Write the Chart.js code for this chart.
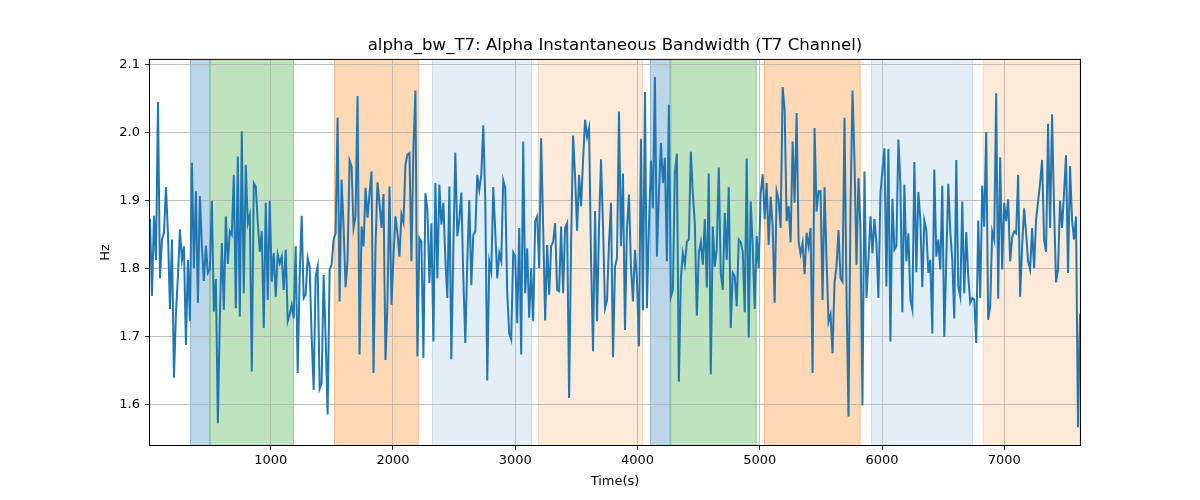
<!DOCTYPE html>
<html>
<head>
<meta charset="utf-8">
<script src="https://cdn.jsdelivr.net/npm/chart.js@4/dist/chart.umd.min.js"></script>
<style>
  html, body { margin: 0; padding: 0; background: #ffffff; }
  #wrap { width: 1200px; height: 500px; }
</style>
</head>
<body>
<div id="wrap"><canvas id="chart" width="1200" height="500"></canvas></div>
<script>
// Time axis: samples are evenly spaced between the first and last time
const T_START = 13;
const T_END = 7619;

// Alpha instantaneous bandwidth, T7 channel (Hz), read left to right
const BW_VALUES = [
  // ~13 - 760 s
  1.873, 1.760, 1.878, 1.813, 2.045, 1.786, 1.843, 1.852, 1.920, 1.852,
  1.741, 1.843, 1.640, 1.735, 1.789, 1.858, 1.813, 1.833, 1.688, 1.813,
  1.723, 1.956, 1.801, 1.914, 1.750, 1.907, 1.833, 1.782, 1.834, 1.794,
  1.799, 1.900, 1.737, 1.785, 1.573, 1.730, 1.838, 1.740, 1.877, 1.807,
  1.855, 1.850, 1.938, 1.742, 1.965, 1.730, 2.002,
  // ~760 - 1500 s
  1.764, 1.953, 1.867, 1.879, 1.649, 1.926, 1.921, 1.868, 1.825, 1.855,
  1.713, 1.897, 1.754, 1.900, 1.781, 1.823, 1.759, 1.821, 1.808, 1.818,
  1.769, 1.828, 1.723, 1.733, 1.747, 1.727, 1.833, 1.647, 1.790, 1.878,
  1.757, 1.762, 1.816, 1.803, 1.700, 1.622, 1.789, 1.803, 1.624, 1.632,
  1.791, 1.700, 1.586, 1.799, 1.806,
  // ~1500 - 2250 s
  1.843, 1.852, 2.022, 1.752, 1.931, 1.862, 1.773, 1.813, 1.959, 1.950,
  1.860, 1.877, 2.054, 1.674, 1.862, 1.833, 1.919, 1.875, 1.911, 1.943,
  1.647, 1.833, 1.927, 1.897, 1.860, 1.910, 1.666, 1.750, 1.921, 1.747,
  1.818, 1.877, 1.852, 1.818, 1.880, 1.868, 1.953, 1.968, 1.970, 1.811,
  1.980, 2.062, 1.671, 1.845, 1.840, 1.669,
  // ~2250 - 3000 s
  1.911, 1.887, 1.779, 1.867, 1.693, 1.926, 1.786, 1.924, 1.865, 1.897,
  1.813, 1.757, 1.921, 1.667, 1.830, 1.971, 1.848, 1.872, 1.912, 1.786,
  1.691, 1.813, 1.901, 1.776, 1.850, 1.855, 1.938, 1.916, 1.938, 2.011,
  1.901, 1.636, 1.811, 1.796, 1.920, 1.855, 1.786, 1.823, 1.811, 1.930,
  1.919, 1.764, 1.705, 1.696, 1.824, 1.818,
  // ~3000 - 3750 s
  1.720, 1.860, 1.674, 1.987, 1.764, 1.830, 1.728, 1.801, 1.723, 1.870,
  1.877, 1.801, 1.992, 1.862, 1.724, 1.835, 1.762, 1.833, 1.840, 1.867,
  1.769, 1.767, 1.862, 1.764, 1.860, 1.867, 1.610, 1.838, 1.996, 1.936,
  1.856, 1.938, 1.892, 1.960, 2.019, 1.994, 2.007, 1.813, 1.679, 1.885,
  1.723, 1.862, 1.961, 1.862, 1.742, 1.754,
  // ~3750 - 4500 s
  1.838, 1.897, 1.670, 1.803, 1.816, 2.031, 1.833, 1.940, 1.710, 1.860,
  1.909, 1.803, 1.752, 1.828, 1.784, 1.686, 1.991, 1.739, 2.060, 1.742,
  1.862, 1.959, 1.889, 2.082, 1.818, 1.911, 1.985, 1.926, 1.963, 1.811,
  2.041, 1.759, 1.769, 1.941, 1.969, 1.634, 1.786, 1.823, 1.806, 1.840,
  1.843, 1.972, 1.911, 1.867, 1.731, 1.823,
  // ~4500 - 5250 s
  1.839, 1.806, 1.873, 1.772, 1.940, 1.645, 1.862, 1.803, 1.830, 1.949,
  1.794, 1.769, 1.882, 1.813, 1.920, 1.713, 1.794, 1.789, 1.745, 1.843,
  1.839, 1.825, 1.736, 1.962, 1.699, 1.899, 1.833, 1.741, 1.848, 1.801,
  1.911, 1.939, 1.873, 1.926, 1.835, 1.906, 1.862, 1.750, 1.914, 1.901,
  1.860, 2.067, 2.034, 1.870, 1.892, 1.839,
  // ~5250 - 6000 s
  1.987, 1.897, 2.029, 1.840, 1.822, 1.838, 1.792, 1.853, 1.833, 1.860,
  1.647, 2.007, 1.884, 1.914, 1.914, 1.754, 1.920, 1.813, 1.722, 1.733,
  1.676, 1.780, 1.804, 1.857, 1.786, 1.781, 2.022, 1.764, 1.583, 1.887,
  2.062, 1.960, 1.806, 1.933, 1.862, 1.599, 1.943, 1.757, 1.813, 1.877,
  1.823, 1.873, 1.838, 1.757, 1.911, 1.945,
  // ~6000 - 6750 s
  1.977, 1.774, 1.976, 1.693, 1.903, 1.828, 1.833, 1.990, 1.926, 1.736,
  1.924, 1.811, 1.852, 1.755, 1.740, 1.957, 1.795, 1.913, 1.873, 1.773,
  1.871, 1.857, 1.794, 1.813, 1.705, 1.946, 1.818, 1.843, 1.799, 1.922,
  1.700, 1.813, 1.925, 1.855, 1.813, 1.727, 1.960, 1.774, 1.759, 1.899,
  1.764, 1.854, 1.789, 1.750, 1.757, 1.755,
  // ~6750 - 7619 s
  1.691, 1.871, 1.757, 1.922, 1.862, 2.001, 1.725, 1.745, 1.855, 1.843,
  2.058, 1.756, 1.964, 1.799, 1.897, 1.870, 1.902, 1.811, 1.846, 1.855,
  1.852, 1.938, 1.759, 1.833, 1.889, 1.852, 1.811, 1.799, 1.860, 1.801,
  1.872, 1.899, 1.926, 1.960, 1.842, 1.825, 2.013, 1.860, 2.027, 1.889,
  1.780, 1.799, 1.900, 1.860, 1.911, 1.967, 1.794, 1.951, 1.872, 1.843,
  1.877, 1.567, 1.734
];

// Shaded state segments (seconds)
const SPAN_START = [340, 504, 1518, 2319, 3186, 4102, 4269, 5035, 5910, 6823];
const SPAN_END   = [504, 1191, 2211, 3137, 4045, 4269, 4975, 5825, 6744, 7619];
const SPAN_KIND  = ['blue', 'green', 'orange', 'lightblue', 'lightorange',
                    'blue', 'green', 'orange', 'lightblue', 'lightorange'];

const X_TICKS = [1000, 2000, 3000, 4000, 5000, 6000, 7000];
const Y_TICKS = [1.6, 1.7, 1.8, 1.9, 2.0, 2.1];
const Y_MIN = 1.541;
const Y_MAX = 2.107;

const SPAN_COLORS = {
    blue: 'rgba(31, 119, 180, 0.3)',
    green: 'rgba(44, 160, 44, 0.3)',
    orange: 'rgba(255, 127, 14, 0.3)',
    lightblue: 'rgba(31, 119, 180, 0.12)',
    lightorange: 'rgba(255, 127, 14, 0.16)'
};

const FONT = "'DejaVu Sans', 'Liberation Sans', sans-serif";

const step = (T_END - T_START) / (BW_VALUES.length - 1);
const points = BW_VALUES.map((v, i) => ({ x: T_START + i * step, y: v }));

// Background spans go under the grid, frame goes on top of everything
const spansPlugin = {
    id: 'spans',
    beforeDraw(chart) {
        const { ctx, chartArea: area, scales: { x } } = chart;
        ctx.save();
        ctx.fillStyle = '#ffffff';
        ctx.fillRect(0, 0, chart.width, chart.height);
        for (let i = 0; i < SPAN_START.length; i++) {
            const x0 = Math.max(x.getPixelForValue(SPAN_START[i]), area.left);
            const x1 = Math.min(x.getPixelForValue(SPAN_END[i]), area.right);
            ctx.fillStyle = SPAN_COLORS[SPAN_KIND[i]];
            ctx.fillRect(x0, area.top, x1 - x0, area.bottom - area.top);
            ctx.strokeStyle = SPAN_COLORS[SPAN_KIND[i]];
            ctx.lineWidth = 1;
            ctx.beginPath();
            ctx.moveTo(x0 + 0.5, area.top);
            ctx.lineTo(x0 + 0.5, area.bottom);
            ctx.moveTo(x1 - 0.5, area.top);
            ctx.lineTo(x1 - 0.5, area.bottom);
            ctx.stroke();
        }
        ctx.restore();
    },
    afterDraw(chart) {
        const { ctx, chartArea: area } = chart;
        ctx.save();
        ctx.strokeStyle = '#000000';
        ctx.lineWidth = 1;
        ctx.strokeRect(area.left - 0.5, area.top - 0.5,
                       area.right - area.left + 1, area.bottom - area.top + 1);
        ctx.restore();
    }
};

new Chart(document.getElementById('chart'), {
    type: 'line',
    data: {
        datasets: [{
            label: 'alpha_bw_T7',
            data: points,
            borderColor: '#1f77b4',
            borderWidth: 2,
            pointRadius: 0,
            tension: 0,
            fill: false
        }]
    },
    options: {
        responsive: false,
        animation: false,
        events: [],
        layout: { padding: { top: 0, right: 120, bottom: 0, left: 0 } },
        plugins: {
            legend: { display: false },
            tooltip: { enabled: false },
            title: {
                display: true,
                fullSize: false,
                text: 'alpha_bw_T7: Alpha Instantaneous Bandwidth (T7 Channel)',
                color: '#000000',
                font: { family: FONT, size: 16.6, weight: 'normal' },
                padding: { top: 36, bottom: 4 }
            }
        },
        scales: {
            x: {
                type: 'linear',
                min: T_START,
                max: T_END,
                afterBuildTicks: (scale) => {
                    scale.ticks = X_TICKS.map(v => ({ value: v }));
                },
                afterFit: (scale) => { scale.height = 55; },
                grid: {
                    color: '#b0b0b0',
                    lineWidth: 0.8,
                    tickColor: '#000000',
                    tickLength: 5,
                    drawTicks: true
                },
                border: { display: false },
                ticks: {
                    color: '#000000',
                    font: { family: FONT, size: 13 },
                    padding: 3,
                    maxRotation: 0,
                    callback: (v) => String(v)
                },
                title: {
                    display: true,
                    text: 'Time(s)',
                    color: '#000000',
                    font: { family: FONT, size: 13 },
                    padding: { top: 0, bottom: 11 }
                }
            },
            y: {
                type: 'linear',
                min: Y_MIN,
                max: Y_MAX,
                afterBuildTicks: (scale) => {
                    scale.ticks = Y_TICKS.map(v => ({ value: v }));
                },
                afterFit: (scale) => { scale.width = 150; },
                grid: {
                    color: '#b0b0b0',
                    lineWidth: 0.8,
                    tickColor: '#000000',
                    tickLength: 5,
                    drawTicks: true
                },
                border: { display: false },
                ticks: {
                    color: '#000000',
                    font: { family: FONT, size: 13 },
                    padding: 5,
                    callback: (v) => v.toFixed(1)
                },
                title: {
                    display: true,
                    text: 'Hz',
                    color: '#000000',
                    font: { family: FONT, size: 13 },
                    padding: { top: 98, bottom: 0 }
                }
            }
        }
    },
    plugins: [spansPlugin]
});
</script>
</body>
</html>
